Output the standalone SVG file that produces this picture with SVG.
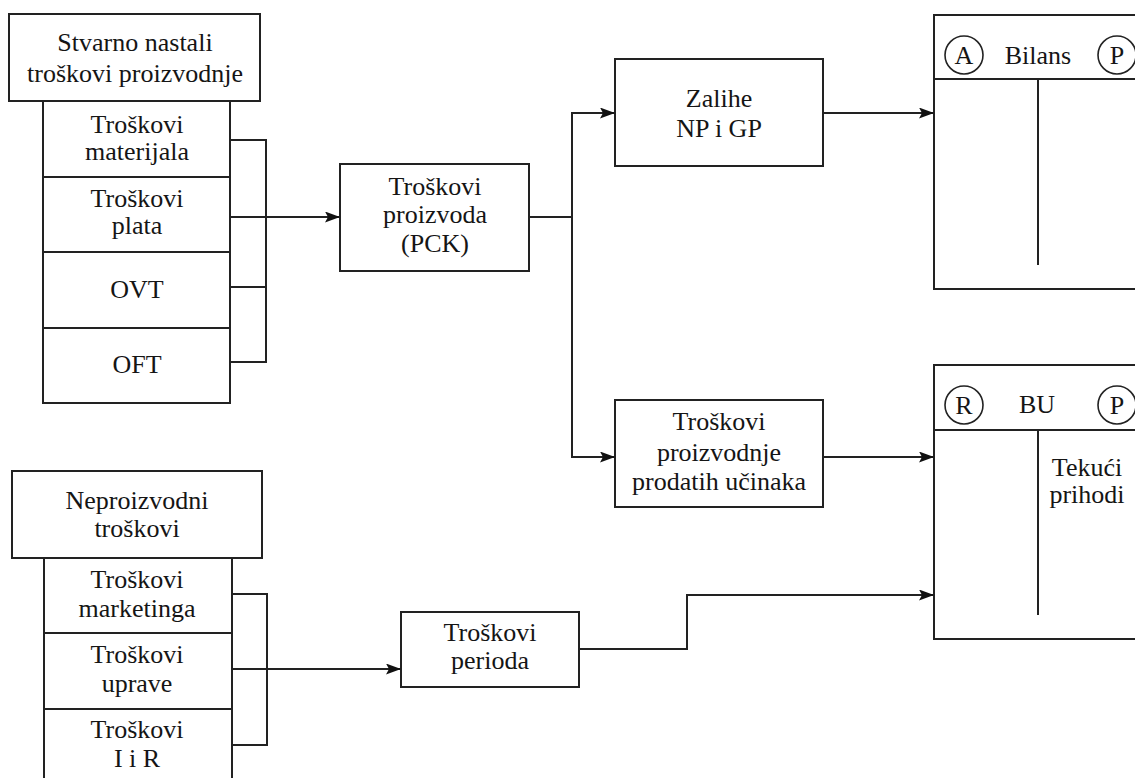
<svg xmlns="http://www.w3.org/2000/svg" width="1135" height="778" viewBox="0 0 1135 778" font-family="Liberation Serif">
<style>
.b{fill:#fff;stroke:#222;stroke-width:2}
.l{fill:none;stroke:#222;stroke-width:2}
.t{font-family:"Liberation Serif","Times New Roman",serif;font-size:26px;fill:#151515;text-anchor:middle}
.c{fill:#fff;stroke:#222;stroke-width:1.6}
</style>
<defs>
<marker id="ah" markerUnits="userSpaceOnUse" markerWidth="15" markerHeight="11" refX="15" refY="5.5" orient="auto">
<path d="M0,0 L15,5.5 L0,11 L3,5.5 z" fill="#111"/>
</marker>
</defs>
<rect width="1135" height="778" fill="#fff"/>
<g id="stvarno">
<rect class="b" x="9" y="14" width="251" height="87"/>
<text class="t" x="135" y="51">Stvarno nastali</text>
<text class="t" x="135" y="82">troškovi proizvodnje</text>
</g>
<g id="materijal">
<rect class="b" x="43" y="101" width="187" height="76"/>
<text class="t" x="137" y="133">Troškovi</text>
<text class="t" x="137" y="160">materijala</text>
</g>
<g id="plata">
<rect class="b" x="43" y="177" width="187" height="75"/>
<text class="t" x="137" y="207">Troškovi</text>
<text class="t" x="137" y="234">plata</text>
</g>
<g id="ovt">
<rect class="b" x="43" y="252" width="187" height="76"/>
<text class="t" x="137" y="298">OVT</text>
</g>
<g id="oft">
<rect class="b" x="43" y="328" width="187" height="75"/>
<text class="t" x="137" y="373">OFT</text>
</g>
<g id="pck">
<rect class="b" x="340" y="164" width="189" height="107"/>
<text class="t" x="435" y="195">Troškovi</text>
<text class="t" x="435" y="223">proizvoda</text>
<text class="t" x="435" y="252">(PCK)</text>
</g>
<g id="zalihe">
<rect class="b" x="615" y="59" width="208" height="107"/>
<text class="t" x="719" y="107">Zalihe</text>
<text class="t" x="719" y="137">NP i GP</text>
</g>
<g id="prodati">
<rect class="b" x="615" y="400" width="208" height="107"/>
<text class="t" x="719" y="430">Troškovi</text>
<text class="t" x="719" y="461">proizvodnje</text>
<text class="t" x="719" y="490">prodatih učinaka</text>
</g>
<g id="bilans">
<rect class="b" x="934" y="15" width="230" height="274"/>
<line class="l" x1="934" y1="79" x2="1140" y2="79"/>
<line class="l" x1="1038" y1="79" x2="1038" y2="265"/>
<circle class="c" cx="964" cy="55" r="19"/>
<text class="t" x="964" y="64">A</text>
<text class="t" x="1038" y="64">Bilans</text>
<circle class="c" cx="1117" cy="55" r="19"/>
<text class="t" x="1117" y="64">P</text>
</g>
<g id="bu">
<rect class="b" x="934" y="365" width="230" height="274"/>
<line class="l" x1="934" y1="430" x2="1140" y2="430"/>
<line class="l" x1="1038" y1="430" x2="1038" y2="615"/>
<circle class="c" cx="964" cy="405" r="19"/>
<text class="t" x="964" y="414">R</text>
<text class="t" x="1037" y="413">BU</text>
<circle class="c" cx="1117" cy="405" r="19"/>
<text class="t" x="1117" y="414">P</text>
<text class="t" x="1087" y="476">Tekući</text>
<text class="t" x="1087" y="503">prihodi</text>
</g>
<g id="neproizvodni">
<rect class="b" x="12" y="471" width="250" height="87"/>
<text class="t" x="137" y="509">Neproizvodni</text>
<text class="t" x="137" y="537">troškovi</text>
</g>
<g id="marketing">
<rect class="b" x="44" y="558" width="188" height="75"/>
<text class="t" x="137" y="588">Troškovi</text>
<text class="t" x="137" y="617">marketinga</text>
</g>
<g id="uprava">
<rect class="b" x="44" y="633" width="188" height="76"/>
<text class="t" x="137" y="663">Troškovi</text>
<text class="t" x="137" y="692">uprave</text>
</g>
<g id="iir">
<rect class="b" x="44" y="709" width="188" height="85"/>
<text class="t" x="137" y="738">Troškovi</text>
<text class="t" x="137" y="767">I i R</text>
</g>
<g id="period">
<rect class="b" x="401" y="612" width="178" height="75"/>
<text class="t" x="490" y="641">Troškovi</text>
<text class="t" x="490" y="669">perioda</text>
</g>
<g id="connectors">
<polyline class="l" points="230,140 266,140 266,362 230,362"/>
<line class="l" x1="230" y1="287" x2="266" y2="287"/>
<line class="l" x1="230" y1="217" x2="340" y2="217" marker-end="url(#ah)"/>
<line class="l" x1="529" y1="217" x2="572" y2="217"/>
<polyline class="l" points="572,113 572,457"/>
<line class="l" x1="571" y1="113" x2="615" y2="113" marker-end="url(#ah)"/>
<line class="l" x1="571" y1="457" x2="615" y2="457" marker-end="url(#ah)"/>
<line class="l" x1="823" y1="113" x2="934" y2="113" marker-end="url(#ah)"/>
<line class="l" x1="823" y1="457" x2="934" y2="457" marker-end="url(#ah)"/>
<polyline class="l" points="232,594 267,594 267,745 232,745"/>
<line class="l" x1="232" y1="669" x2="401" y2="669" marker-end="url(#ah)"/>
<polyline class="l" points="579,649 687,649 687,595 934,595" marker-end="url(#ah)"/>
</g>
</svg>
